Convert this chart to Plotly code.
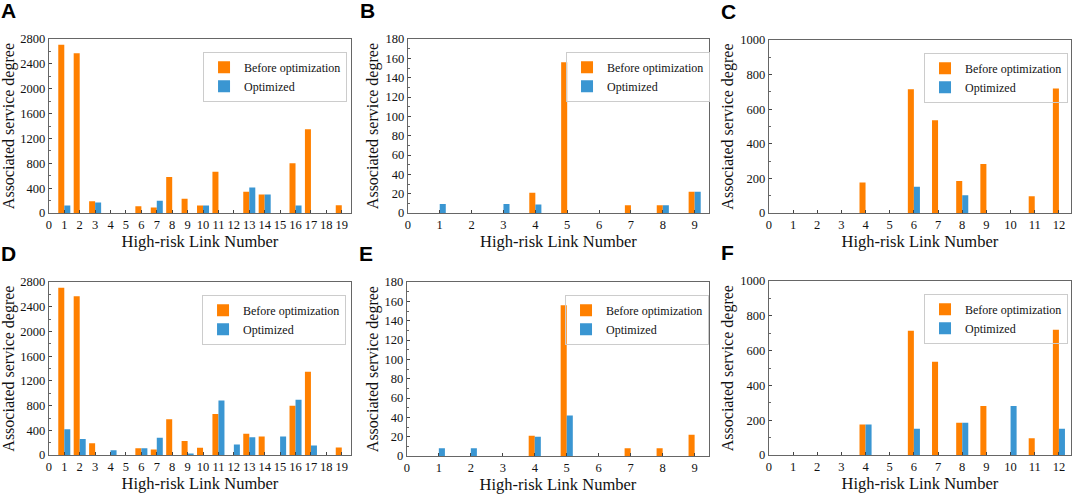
import plotly.graph_objects as go

links_A = list(range(1, 20))
before_A = [2710, 2570, 190, 0, 0, 110, 90, 580, 230, 120, 665, 0, 345, 300, 0, 800, 1350, 0, 125]
opt_A = [120, 0, 170, 0, 0, 0, 200, 0, 0, 120, 0, 0, 410, 300, 0, 120, 0, 0, 0]

links_B = list(range(1, 10))
before_B = [0, 0, 0, 21, 156, 0, 8, 8, 22]
opt_B = [9.5, 0, 9.5, 9, 0, 0, 0, 8, 22]

links_C = list(range(1, 13))
before_C = [0, 0, 0, 176, 0, 715, 537, 186, 283, 0, 97, 720]
opt_C = [0, 0, 0, 0, 0, 152, 0, 103, 0, 0, 0, 0]

links_D = list(range(1, 20))
before_D = [2710, 2570, 190, 0, 0, 110, 90, 580, 230, 120, 665, 0, 345, 300, 0, 800, 1350, 0, 125]
opt_D = [420, 260, 0, 80, 0, 110, 280, 0, 25, 0, 885, 170, 290, 0, 300, 895, 155, 0, 0]

links_E = list(range(1, 10))
before_E = [0, 0, 0, 21, 156, 0, 8, 8, 22]
opt_E = [8, 8, 0, 20, 42, 0, 0, 0, 0]

links_F = list(range(1, 13))
before_F = [0, 0, 0, 176, 0, 715, 537, 186, 283, 0, 97, 720]
opt_F = [0, 0, 0, 176, 0, 152, 0, 186, 0, 283, 0, 152]

panel_letters = ["A", "B", "C", "D", "E", "F"]
series_names = ["Before optimization", "Optimized"]
x_title = "High-risk Link Number"
y_title = "Associated service degree"

ORANGE = "#FF8000"
BLUE = "#3A96D2"
SERIF = "Liberation Serif"
W, H = 1072, 501

panels = [
    (links_A, before_A, opt_A, (46, 349), (33, 212), 19.6, 2800, 400, 200, 0.39, (345, 46)),
    (links_B, before_B, opt_B, (406, 708), (33, 212), 9.45, 180, 20, 10, 0.19, (709, 46)),
    (links_C, before_C, opt_C, (768, 1071), (34, 212), 12.5, 1000, 200, 100, 0.25, (1068, 47)),
    (links_D, before_D, opt_D, (46, 349), (283, 461), 19.6, 2800, 400, 200, 0.39, (344, 296)),
    (links_E, before_E, opt_E, (405, 708), (283, 462), 9.45, 180, 20, 10, 0.19, (708, 296)),
    (links_F, before_F, opt_F, (768, 1071), (282, 461), 12.5, 1000, 200, 100, 0.25, (1068, 295)),
]

fig = go.Figure()
layout = {}
annotations = []
for i, (xs, bef, opt, (x0, x1), (y0, y1), xmax, ymax, dy, mdy, bw, (lx, ly)) in enumerate(panels):
    n = i + 1
    xa = "x" if n == 1 else f"x{n}"
    ya = "y" if n == 1 else f"y{n}"
    lg = "legend" if n == 1 else f"legend{n}"
    fig.add_trace(go.Bar(x=xs, y=bef, name=series_names[0], marker_color=ORANGE,
                         marker_line_width=0, width=bw, offset=-bw,
                         xaxis=xa, yaxis=ya, legend=lg))
    fig.add_trace(go.Bar(x=xs, y=opt, name=series_names[1], marker_color=BLUE,
                         marker_line_width=0, width=bw, offset=0,
                         xaxis=xa, yaxis=ya, legend=lg))
    xk = "xaxis" if n == 1 else f"xaxis{n}"
    yk = "yaxis" if n == 1 else f"yaxis{n}"
    layout[xk] = dict(
        domain=[x0 / W, x1 / W], anchor=ya, range=[0, xmax], dtick=1, tick0=0,
        showline=True, mirror=True, linecolor="#666", linewidth=1,
        ticks="inside", ticklen=3, tickcolor="#444", showgrid=False, zeroline=False,
        tickfont=dict(family=SERIF, size=12.5, color="#111"),
        title=dict(text=x_title, font=dict(family=SERIF, size=16.5, color="#111"), standoff=3),
    )
    layout[yk] = dict(
        domain=[1 - y1 / H, 1 - y0 / H], anchor=xa, range=[0, ymax], dtick=dy, tick0=0,
        showline=True, mirror=True, linecolor="#666", linewidth=1,
        ticks="inside", ticklen=3, tickcolor="#444", showgrid=False, zeroline=False,
        minor=dict(ticks="inside", dtick=mdy, ticklen=2, tickcolor="#666"),
        tickfont=dict(family=SERIF, size=12.5, color="#111"),
        title=dict(text=y_title, font=dict(family=SERIF, size=16, color="#111"), standoff=2),
    )
    layout[lg] = dict(
        x=lx / W, y=1 - ly / H, xanchor="right", yanchor="top",
        bgcolor="rgba(255,255,255,0)", bordercolor="#cccccc", borderwidth=1,
        font=dict(family=SERIF, size=12, color="#111"),
        tracegroupgap=0, itemwidth=30,
    )
    annotations.append(dict(
        text=f"<b>{panel_letters[i]}</b>", xref="paper", yref="paper",
        x=(x0 - 50) / W, y=1 - (y0 - 43) / H, xanchor="left", yanchor="top",
        showarrow=False, font=dict(family="Liberation Sans", size=21, color="black"),
    ))

fig.update_layout(
    width=W, height=H, margin=dict(l=0, r=0, t=0, b=0),
    plot_bgcolor="white", paper_bgcolor="white",
    font=dict(family=SERIF, color="#111"),
    barmode="overlay", showlegend=True, annotations=annotations, **layout,
)
fig.write_html("out.html", config={"displayModeBar": False},
               post_script="document.body.style.margin='0';")
